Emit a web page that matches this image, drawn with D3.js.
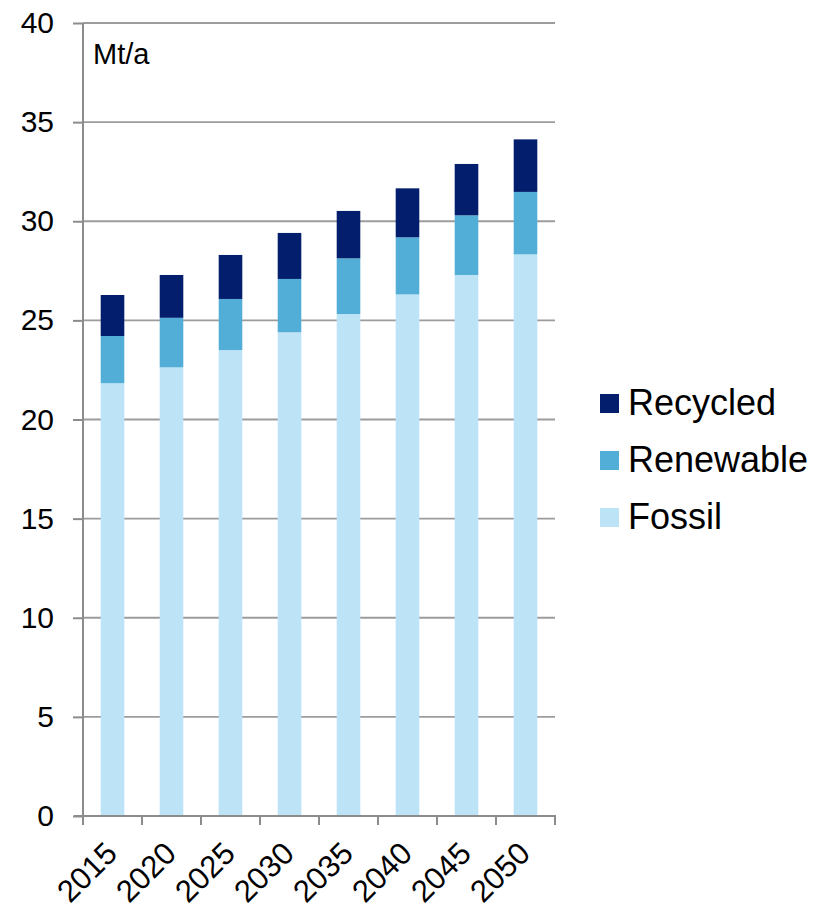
<!DOCTYPE html>
<html lang="en">
  <head>
    <meta charset="utf-8" />
    <title>Mt/a by source</title>
    <script src="https://d3js.org/d3.v7.min.js"></script>
    <style>
      body {
        margin: 0;
        background: #fff;
      }
      svg {
        font-family: "Liberation Sans", Arial, sans-serif;
      }
    </style>
  </head>
  <body>
    <svg id="chart"></svg>
    <script>
      const years = ["2015", "2020", "2025", "2030", "2035", "2040", "2045", "2050"];
      const fossil = [21.83, 22.63, 23.5, 24.4, 25.32, 26.31, 27.29, 28.33];
      const renewable = [2.38, 2.5, 2.58, 2.69, 2.81, 2.88, 3.01, 3.15];
      const recycled = [2.07, 2.16, 2.22, 2.32, 2.39, 2.47, 2.59, 2.65];
      const yTicks = [0, 5, 10, 15, 20, 25, 30, 35, 40];
      const seriesNames = ["Fossil", "Renewable", "Recycled"];
      const colors = ["#bde3f6", "#52aed6", "#021e6c"];

      const width = 831;
      const height = 910;

      const svg = d3.select("#chart").attr("width", width).attr("height", height);

      // scales
      const x = d3.scaleBand().domain(years).range([83, 555]).paddingInner(0.6).paddingOuter(0.3);
      const y = d3.scaleLinear().domain([0, 40]).range([816, 23]);
      const color = d3.scaleOrdinal().domain(seriesNames).range(colors);

      // gridlines
      svg
        .append("g")
        .selectAll("line")
        .data(yTicks.filter((d) => d > 0))
        .join("line")
        .attr("x1", 83)
        .attr("x2", 555)
        .attr("y1", (d) => y(d))
        .attr("y2", (d) => y(d))
        .attr("stroke", "#9c9c9c")
        .attr("stroke-width", 1.8);

      // stacked bars
      const table = years.map((yr, i) => ({
        year: yr,
        Fossil: fossil[i],
        Renewable: renewable[i],
        Recycled: recycled[i],
      }));
      const stacked = d3.stack().keys(seriesNames)(table);

      svg
        .append("g")
        .selectAll("g")
        .data(stacked)
        .join("g")
        .attr("fill", (d) => color(d.key))
        .selectAll("rect")
        .data((d) => d)
        .join("rect")
        .attr("x", (d) => x(d.data.year))
        .attr("width", x.bandwidth())
        .attr("y", (d) => y(d[1]))
        .attr("height", (d) => y(d[0]) - y(d[1]));

      // y axis
      const yAxis = d3.axisLeft(y).tickValues(yTicks).tickSize(10).tickPadding(19);
      const gy = svg.append("g").attr("transform", "translate(83,0)").call(yAxis);
      gy.select(".domain").attr("stroke", "#8c8c8c").attr("stroke-width", 2).attr("d", "M0,23V817");
      gy.selectAll(".tick line").attr("stroke", "#8c8c8c").attr("stroke-width", 2);
      gy.selectAll(".tick text")
        .attr("font-size", 30)
        .attr("fill", "#000")
        .attr("font-family", "Liberation Sans, Arial, sans-serif");

      // x axis: ticks at category boundaries
      const bounds = years.map((d) => x(d) - (x.step() * x.paddingInner()) / 2);
      bounds.push(555);
      const gx = svg.append("g");
      gx.append("line")
        .attr("x1", 74)
        .attr("x2", 556)
        .attr("y1", 816)
        .attr("y2", 816)
        .attr("stroke", "#8c8c8c")
        .attr("stroke-width", 2);
      gx.selectAll(".bt")
        .data(bounds)
        .join("line")
        .attr("class", "bt")
        .attr("x1", (d) => d)
        .attr("x2", (d) => d)
        .attr("y1", 816)
        .attr("y2", 825)
        .attr("stroke", "#8c8c8c")
        .attr("stroke-width", 2);
      gx.selectAll("text")
        .data(years)
        .join("text")
        .attr("text-anchor", "end")
        .attr("font-size", 31)
        .attr("transform", (d) => `translate(${x(d) + x.bandwidth() / 2 - 9},${840}) rotate(-45)`)
        .attr("dy", "0.7em")
        .text((d) => d);

      // unit label
      svg.append("text").attr("x", 93).attr("y", 64).attr("font-size", 29).text("Mt/a");

      // legend
      const legend = svg
        .append("g")
        .selectAll("g")
        .data(seriesNames.slice().reverse())
        .join("g")
        .attr("transform", (d, i) => `translate(600,${394 + i * 57})`);
      legend
        .append("rect")
        .attr("width", 19)
        .attr("height", 19)
        .attr("fill", (d) => color(d));
      legend
        .append("text")
        .attr("x", 28)
        .attr("y", 21)
        .attr("font-size", 36)
        .text((d) => d);
    </script>
  </body>
</html>
